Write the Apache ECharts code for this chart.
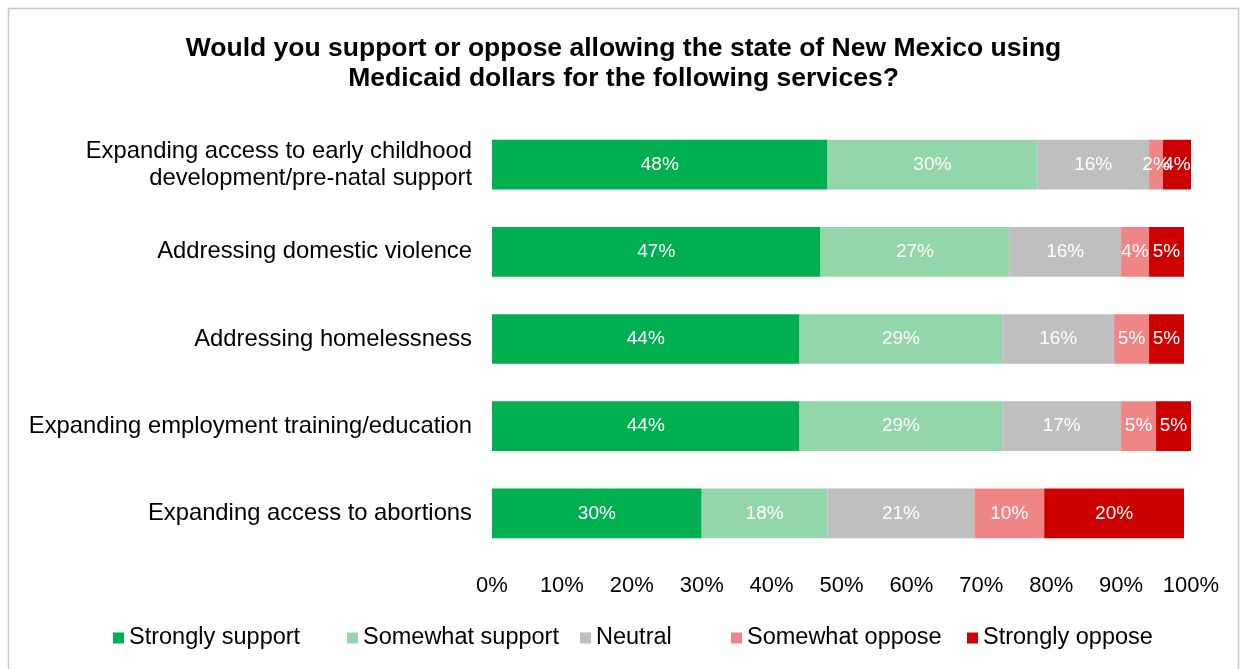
<!DOCTYPE html>
<html>
<head>
<meta charset="utf-8">
<script src="https://cdn.jsdelivr.net/npm/echarts@6/dist/echarts.min.js"></script>
<style>
  html, body { margin: 0; padding: 0; background: #ffffff; }
  #chart { width: 1247px; height: 669px; }
</style>
</head>
<body>
<div id="chart"></div>
<script>
// Services asked about, top to bottom
const categories = [
  'Expanding access to early childhood\ndevelopment/pre-natal support',
  'Addressing domestic violence',
  'Addressing homelessness',
  'Expanding employment training/education',
  'Expanding access to abortions'
];

// Response shares (%) per service
const stronglySupport = [48, 47, 44, 44, 30];
const somewhatSupport = [30, 27, 29, 29, 18];
const neutral         = [16, 16, 16, 17, 21];
const somewhatOppose  = [2, 4, 5, 5, 10];
const stronglyOppose  = [4, 5, 5, 5, 20];

const tickLabels = ['0%', '10%', '20%', '30%', '40%', '50%', '60%', '70%', '80%', '90%', '100%'];

const seriesDefs = [
  { name: 'Strongly support', data: stronglySupport, color: '#00b050' },
  { name: 'Somewhat support', data: somewhatSupport, color: '#93d6a9' },
  { name: 'Neutral',          data: neutral,         color: '#bfbfbf' },
  { name: 'Somewhat oppose',  data: somewhatOppose,  color: '#f08585' },
  { name: 'Strongly oppose',  data: stronglyOppose,  color: '#cc0000' }
];

// Legend entries sit in fixed slots along the bottom row
const legendSlots = [108, 342, 575, 726, 962];

const font = '"Liberation Sans", Arial, sans-serif';

const chart = echarts.init(document.getElementById('chart'), null, { renderer: 'canvas' });

chart.setOption({
  backgroundColor: '#ffffff',
  animation: false,
  textStyle: { fontFamily: font },
  title: {
    text: 'Would you support or oppose allowing the state of New Mexico using\nMedicaid dollars for the following services?',
    left: 'center',
    top: 29,
    textStyle: { fontFamily: font, fontWeight: 'bold', fontSize: 26.5, lineHeight: 30, color: '#000000' }
  },
  graphic: [{
    type: 'rect',
    shape: { x: 8.5, y: 8.5, width: 1230, height: 680 },
    style: { fill: 'none', stroke: '#c8c8c8', lineWidth: 1.5 },
    silent: true
  }],
  legend: seriesDefs.map((s, i) => ({
    top: 621,
    left: legendSlots[i],
    itemWidth: 11,
    itemHeight: 11,
    icon: 'rect',
    textStyle: { fontFamily: font, fontSize: 23.5, color: '#000000' },
    data: [s.name]
  })),
  grid: { left: 492, right: 56, top: 121, bottom: 112, containLabel: false },
  xAxis: {
    type: 'value',
    min: 0,
    max: 100,
    interval: 10,
    axisLine: { show: false },
    axisTick: { show: false },
    splitLine: { show: false },
    axisLabel: {
      margin: 18,
      fontSize: 22,
      color: '#000000',
      fontFamily: font,
      formatter: v => tickLabels[Math.round(v / 10)]
    }
  },
  yAxis: {
    type: 'category',
    inverse: true,
    data: categories,
    axisLine: { show: false },
    axisTick: { show: false },
    axisLabel: {
      margin: 20,
      fontSize: 23.8,
      lineHeight: 27,
      color: '#000000',
      fontFamily: font,
      align: 'right'
    }
  },
  series: seriesDefs.map(s => ({
    name: s.name,
    type: 'bar',
    stack: 'total',
    barCategoryGap: '43%',
    data: s.data,
    itemStyle: { color: s.color },
    label: {
      show: true,
      position: 'inside',
      color: '#ffffff',
      fontSize: 19,
      fontFamily: font,
      formatter: p => p.value + '%'
    }
  }))
});
</script>
</body>
</html>
